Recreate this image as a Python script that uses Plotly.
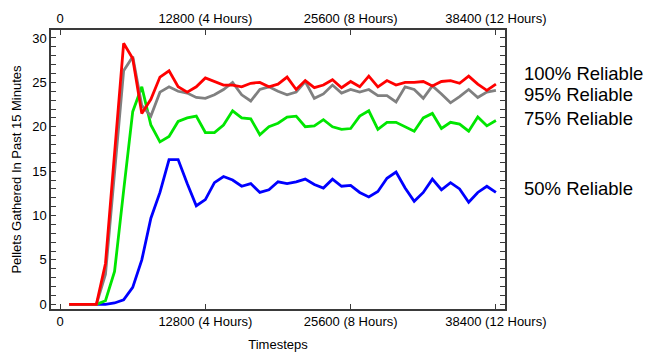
import plotly.graph_objects as go

# ---- data ----
step = 800
timesteps = [step * i for i in range(1, 49)]

rel_100 = [0, 0, 0, 0, 4.6, 17.3, 29.4, 27.7, 21.5, 23.1, 25.6, 26.3, 24.5, 23.9, 24.5, 25.5,
           25.1, 24.7, 24.7, 24.5, 24.9, 25.0, 24.5, 24.8, 25.6, 24.2, 25.2, 24.4, 24.7, 25.3,
           24.4, 25.1, 24.5, 25.7, 24.5, 25.2, 24.7, 25.0, 25.0, 25.1, 24.6, 25.1, 25.2, 24.9,
           25.7, 24.8, 24.1, 24.8]
rel_95 = [0, 0, 0, 0, 3.4, 14.5, 26.3, 27.9, 22.4, 21.2, 23.9, 24.5, 24.0, 23.8, 23.3, 23.2,
          23.6, 24.2, 25.0, 23.6, 22.9, 24.2, 24.5, 24.0, 23.6, 23.9, 25.1, 23.2, 23.7, 24.7,
          23.8, 24.2, 23.9, 24.2, 23.5, 23.5, 22.8, 24.5, 24.2, 23.2, 24.6, 23.7, 22.7, 23.4,
          24.2, 23.3, 23.9, 24.1]
rel_75 = [0, 0, 0, 0, 0.4, 3.7, 12.8, 21.7, 24.5, 20.2, 18.3, 18.9, 20.6, 21.0, 21.2, 19.35,
          19.35, 20.2, 21.8, 21.0, 20.9, 19.1, 20.0, 20.4, 21.1, 21.2, 20.0, 20.1, 20.8, 20.0,
          19.7, 19.8, 21.2, 21.8, 19.7, 20.5, 20.5, 20.0, 19.5, 21.0, 21.5, 19.8, 20.5, 20.3,
          19.5, 21.1, 20.1, 20.7]
rel_50 = [0, 0, 0, 0, 0, 0.15, 0.5, 1.9, 5.0, 9.7, 12.6, 16.3, 16.3, 13.6, 11.1, 11.8,
          13.7, 14.4, 14.0, 13.3, 13.6, 12.6, 12.9, 13.8, 13.6, 13.8, 14.1, 13.5, 13.1, 14.1,
          13.3, 13.4, 12.6, 12.1, 12.7, 14.2, 14.9, 13.1, 11.6, 12.6, 14.1, 12.9, 13.7, 13.0,
          11.5, 12.6, 13.3, 12.6]

series_names = ["100% Reliable", "95% Reliable", "75% Reliable", "50% Reliable"]
series_values = [rel_100, rel_95, rel_75, rel_50]

x_tickvals = [0, 12800, 25600, 38400]
x_ticktext = ["0", "12800 (4 Hours)", "25600 (8 Hours)", "38400 (12 Hours)"]

# ---- style ----
colors = ["#ff0000", "#808080", "#00e600", "#0000ff"]
label_y = [26.0, 23.65, 20.9, 13.1]
font_family = "Liberation Sans, Arial, Helvetica, sans-serif"
frame_color = "#3a3a3a"

fig = go.Figure()
# draw in reverse order so red ends on top
order = [3, 2, 1, 0]
for k in order:
    fig.add_trace(go.Scatter(
        x=timesteps, y=series_values[k], mode="lines", name=series_names[k],
        line=dict(color=colors[k], width=2.8), hoverinfo="skip", showlegend=False,
    ))

# invisible trace to activate the top axis
fig.add_trace(go.Scatter(
    x=timesteps, y=rel_100, xaxis="x2", mode="lines",
    line=dict(width=0, color="rgba(0,0,0,0)"), hoverinfo="skip", showlegend=False,
))

for k in range(4):
    fig.add_annotation(
        x=1.037, xref="paper", y=label_y[k], yref="y",
        text=series_names[k], showarrow=False, xanchor="left", yanchor="middle",
        font=dict(size=18.5, color="black", family=font_family),
    )

x_range = [-800, 39200]
y_range = [-0.53, 30.9]

common_x = dict(
    range=x_range, tickmode="array", tickvals=x_tickvals, ticktext=x_ticktext,
    ticks="inside", ticklen=5, tickwidth=1.2, tickcolor=frame_color,
    showline=True, linecolor=frame_color, linewidth=1.5, showgrid=False, zeroline=False,
    tickfont=dict(size=13, color="black", family=font_family),
)

fig.update_layout(
    width=647, height=352,
    margin=dict(l=51, r=142, t=30, b=43, autoexpand=False),
    paper_bgcolor="white", plot_bgcolor="white",
    font=dict(family=font_family, color="black", size=13),
    xaxis=dict(
        **common_x, mirror=True,
        title=dict(text="Timesteps", font=dict(size=13), standoff=15),
    ),
    xaxis2=dict(
        **common_x, overlaying="x", side="top", anchor="y",
    ),
    yaxis=dict(
        range=y_range, tickmode="linear", tick0=0, dtick=5,
        ticks="inside", ticklen=5, tickwidth=1.2, tickcolor=frame_color,
        minor=dict(ticks="inside", ticklen=3, dtick=1, tick0=0, tickcolor=frame_color, tickwidth=1),
        showline=True, linecolor=frame_color, linewidth=1.5, mirror="allticks",
        showgrid=False, zeroline=False,
        tickfont=dict(size=13, color="black", family=font_family),
        title=dict(text="Pellets Gathered In Past 15 Minutes", font=dict(size=13), standoff=8),
    ),
    hovermode=False,
)

fig.write_html("out.html")
